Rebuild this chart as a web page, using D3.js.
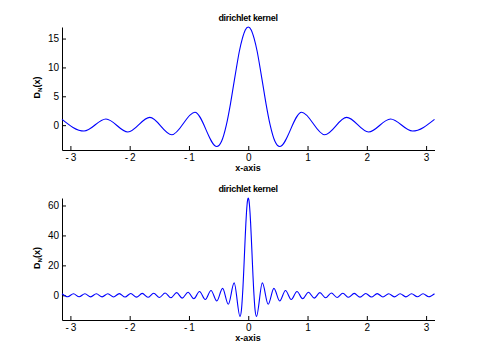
<!DOCTYPE html>
<html>
<head>
<meta charset="UTF-8">
<title>dirichlet kernel</title>
<script src="https://cdn.jsdelivr.net/npm/d3@7"></script>
<style>
  body { margin: 0; background: #fff; }
  text { font-family: "Liberation Sans", Arial, sans-serif; }
  .tick text { font-size: 10px; }
  .title, .xlabel, .ylabel { font-size: 9px; font-weight: bold; }
</style>
</head>
<body>
<svg width="480" height="360"></svg>
<script>
// values: N = 8 (top) and N = 32 (bottom)
const topX = [-3.1416, -2.77, -2.40, -2.03, -1.66, -1.29, -0.90, -0.53, -0.45, -0.37,
  -0.30, -0.25, -0.20, -0.15, -0.10, -0.05, 0, 0.05, 0.10, 0.15, 0.20, 0.25, 0.30,
  0.37, 0.45, 0.53, 0.90, 1.29, 1.66, 2.03, 2.40, 2.77, 3.1416];
const topY = [1.0, -1.02, 1.07, -1.18, 1.35, -1.66, 2.24, -3.7, -2.8, 0,
  3.7, 6.8, 9.9, 12.8, 15.0, 16.5, 17, 16.5, 15.0, 12.8, 9.9, 6.8, 3.7,
  0, -2.8, -3.7, 2.24, -1.66, 1.35, -1.18, 1.07, -1.02, 1.0];

const botX = [-3.1416, -3.045, -2.948, -2.852, -2.755, -2.658, -2.562, -2.465, -2.368,
  -2.272, -2.175, -2.078, -1.982, -1.885, -1.788, -1.692, -1.595, -1.498, -1.402,
  -1.305, -1.208, -1.115, -1.015, -0.918, -0.822, -0.725, -0.628, -0.530, -0.433,
  -0.336, -0.238, -0.139, -0.115, -0.097, -0.09, -0.08, -0.07, -0.06, -0.05, -0.04,
  -0.03, -0.02, -0.01, 0, 0.01, 0.02, 0.03, 0.04, 0.05, 0.06, 0.07, 0.08, 0.09,
  0.097, 0.115, 0.139, 0.238, 0.336, 0.433, 0.530, 0.628, 0.725, 0.822, 0.918,
  1.015, 1.115, 1.208, 1.305, 1.402, 1.498, 1.595, 1.692, 1.788, 1.885, 1.982,
  2.078, 2.175, 2.272, 2.368, 2.465, 2.562, 2.658, 2.755, 2.852, 2.948, 3.045, 3.1416];
const botY = [1.0, -1.0, 1.0, -1.01, 1.02, -1.03, 1.04, -1.06, 1.08,
  -1.10, 1.13, -1.16, 1.20, -1.24, 1.28, -1.34, 1.40, -1.47, 1.55,
  -1.65, 1.76, -1.90, 2.06, -2.26, 2.50, -2.82, 3.24, -3.81, 4.63,
  -5.95, 8.3, -14.1, -9.8, 0, 4.8, 12.9, 21.8, 31.0, 39.9, 48.2,
  55.2, 60.5, 63.9, 65, 63.9, 60.5, 55.2, 48.2, 39.9, 31.0, 21.8, 12.9, 4.8,
  0, -9.8, -14.1, 8.3, -5.95, 4.63, -3.81, 3.24, -2.82, 2.50, -2.26,
  2.06, -1.90, 1.76, -1.65, 1.55, -1.47, 1.40, -1.34, 1.28, -1.24, 1.20,
  -1.16, 1.13, -1.10, 1.08, -1.06, 1.04, -1.03, 1.02, -1.01, 1.0, -1.0, 1.0];

const xTicks = [-3, -2, -1, 0, 1, 2, 3];
const topTicks = [0, 5, 10, 15];
const botTicks = [0, 20, 40, 60];

const svg = d3.select("svg");

function panel(xs, ys, yDomain, yTicks, top, bottom) {
  const x = d3.scaleLinear().domain([-Math.PI, Math.PI]).range([62, 434.5]);
  const y = d3.scaleLinear().domain(yDomain).range([bottom, top]);

  const fmt = d => d < 0 ? "-\u2009" + Math.abs(d) : String(d);

  svg.append("g")
      .attr("transform", `translate(0,${bottom})`)
      .call(d3.axisBottom(x).tickValues(xTicks).tickFormat(fmt)
        .tickSizeInner(-4).tickSizeOuter(0).tickPadding(4));

  svg.append("g")
      .attr("transform", "translate(62,0)")
      .call(d3.axisLeft(y).tickValues(yTicks)
        .tickSizeInner(-4).tickSizeOuter(0).tickPadding(3));

  svg.selectAll(".domain, .tick line").attr("stroke", "#000");

  const line = d3.line()
      .x(d => x(d[0]))
      .y(d => y(d[1]))
      .curve(d3.curveMonotoneX);

  svg.append("path")
      .datum(d3.zip(xs, ys))
      .attr("fill", "none")
      .attr("stroke", "#0000ff")
      .attr("stroke-width", 1.1)
      .attr("d", line);

  svg.append("text")
      .attr("class", "title")
      .attr("x", 248).attr("y", top - 6)
      .attr("text-anchor", "middle")
      .attr("letter-spacing", "-0.3")
      .text("dirichlet kernel");

  svg.append("text")
      .attr("class", "xlabel")
      .attr("x", 248).attr("y", bottom + 21)
      .attr("text-anchor", "middle")
      .text("x-axis");

  const yl = svg.append("text")
      .attr("class", "ylabel")
      .attr("text-anchor", "middle")
      .attr("transform", `translate(40,${(top + bottom) / 2 - 1}) rotate(-90)`);
  yl.append("tspan").text("D");
  yl.append("tspan").attr("font-size", "6px").attr("dy", 2).text("N");
  yl.append("tspan").attr("dy", -2).text("(x)");
}

panel(topX, topY, [-4.3, 17], topTicks, 27, 150);
panel(botX, botY, [-16.5, 65], botTicks, 198, 320);
</script>
</body>
</html>
